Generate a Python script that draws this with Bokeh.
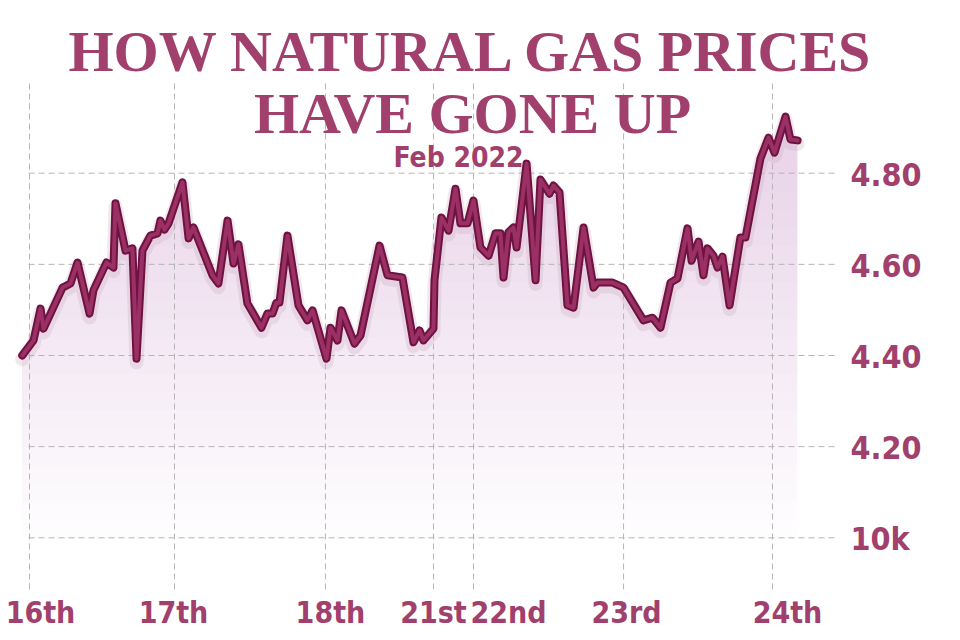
import numpy as np
from bokeh.plotting import figure
from bokeh.models import Range1d
from bokeh.core.properties import value
from bokeh.embed import file_html
from bokeh.resources import INLINE

# ---------------- data ----------------
title_lines = ["HOW NATURAL GAS PRICES", "HAVE GONE UP"]
subtitle = "Feb 2022"

day_labels = ["16th", "17th", "18th", "21st", "22nd", "23rd", "24th"]
day_ticks = [0.0, 1.0, 2.041, 2.786, 3.062, 4.097, 5.124]

price_ticks = [4.80, 4.60, 4.40, 4.20, 4.00]
price_tick_labels = ["4.80", "4.60", "4.40", "4.20", "10k"]

time_x = [-0.050, 0.028, 0.076, 0.097, 0.145, 0.228, 0.283, 0.331, 0.414, 0.441,
          0.531, 0.579, 0.593, 0.662, 0.710, 0.738, 0.779, 0.834, 0.883, 0.903,
          0.931, 0.959, 1.055, 1.097, 1.131, 1.262, 1.303, 1.366, 1.407, 1.441,
          1.503, 1.600, 1.641, 1.676, 1.703, 1.724, 1.779, 1.855, 1.917, 1.952,
          2.048, 2.076, 2.124, 2.152, 2.241, 2.283, 2.414, 2.469, 2.572, 2.648,
          2.690, 2.717, 2.786, 2.793, 2.841, 2.890, 2.938, 2.972, 3.021, 3.062,
          3.110, 3.166, 3.214, 3.248, 3.269, 3.303, 3.338, 3.359, 3.428, 3.490,
          3.524, 3.586, 3.614, 3.655, 3.710, 3.752, 3.821, 3.890, 3.917, 4.021,
          4.097, 4.234, 4.297, 4.352, 4.421, 4.469, 4.538, 4.566, 4.614, 4.648,
          4.676, 4.717, 4.745, 4.779, 4.828, 4.903, 4.938, 5.041, 5.097, 5.138,
          5.214, 5.248, 5.297]

price = [4.400, 4.433, 4.503, 4.459, 4.492, 4.549, 4.558, 4.604, 4.492, 4.543,
         4.604, 4.593, 4.734, 4.630, 4.635, 4.393, 4.630, 4.663, 4.668, 4.696,
         4.676, 4.690, 4.780, 4.657, 4.681, 4.576, 4.558, 4.696, 4.602, 4.644,
         4.514, 4.461, 4.492, 4.492, 4.516, 4.516, 4.663, 4.510, 4.477, 4.499,
         4.393, 4.461, 4.433, 4.499, 4.426, 4.444, 4.641, 4.576, 4.571, 4.429,
         4.455, 4.433, 4.459, 4.565, 4.703, 4.674, 4.766, 4.690, 4.690, 4.740,
         4.637, 4.619, 4.668, 4.668, 4.571, 4.670, 4.681, 4.637, 4.821, 4.565,
         4.786, 4.755, 4.773, 4.758, 4.510, 4.505, 4.681, 4.549, 4.560, 4.560,
         4.549, 4.477, 4.483, 4.461, 4.560, 4.569, 4.679, 4.608, 4.650, 4.576,
         4.635, 4.619, 4.593, 4.617, 4.510, 4.659, 4.659, 4.832, 4.878, 4.845,
         4.924, 4.874, 4.872]

# ---------------- styling / layout ----------------
TEXT_COLOR = "#a1406c"
LINE_DARK = "#6e1242"
LINE_MID = "#9a3063"
GRID_COLOR = "#b5b5b5"
FILL_COLOR = "#b04a80"
TITLE_FONT = value('"Liberation Serif", serif')
LABEL_FONT = value('"DejaVu Sans Condensed", Roboto, sans-serif')
W, H = 960, 640

# pixel <-> data layout helpers (positions for layout only)
X0_PX, PX_PER_DAY = 29.0, 145.0
Y480_PX, PX_PER_UNIT = 172.7, 455.75


def px_x(px):
    return (px - X0_PX) / PX_PER_DAY


def px_y(py):
    return 4.80 - (py - Y480_PX) / PX_PER_UNIT


p = figure(width=W, height=H, output_backend="svg", toolbar_location=None,
           x_range=Range1d(px_x(0), px_x(W)), y_range=Range1d(px_y(H), px_y(0)),
           x_axis_location=None, y_axis_location=None, min_border=0,
           outline_line_color=None, background_fill_color="white",
           border_fill_color="white")
p.grid.visible = False

xs = np.array(time_x)
ys = np.array(price)

# gradient-like area fill built from stacked translucent bands
floors = np.arange(4.0, 4.84, 0.04)
for f in floors:
    p.varea(x=xs, y1=np.full_like(ys, f), y2=np.maximum(ys, f),
            fill_color=FILL_COLOR, fill_alpha=0.013)

# dashed grid
p.segment(x0=[px_x(28)] * len(price_ticks), x1=[px_x(838)] * len(price_ticks),
          y0=price_ticks, y1=price_ticks, line_color=GRID_COLOR,
          line_width=1, line_dash="6 4")
p.segment(x0=day_ticks, x1=day_ticks, y0=[px_y(83)] * len(day_ticks),
          y1=[px_y(590)] * len(day_ticks), line_color=GRID_COLOR,
          line_width=1, line_dash="6 4")

# line with soft shadow and two-tone stroke
p.line(xs, ys - 0.008, line_width=14, line_color="#c9a3b6", line_alpha=0.25,
       line_join="round", line_cap="round")
p.line(xs, ys, line_width=8, line_color=LINE_DARK, line_join="round",
       line_cap="round")
p.line(xs, ys, line_width=4, line_color=LINE_MID, line_join="round",
       line_cap="round")

# titles
p.text(x=[px_x(471), px_x(472)], y=[px_y(51), px_y(113)], text=title_lines,
       text_font=TITLE_FONT, text_font_style="bold",
       text_font_size="58px", text_color=TEXT_COLOR, text_align="center",
       text_baseline="alphabetic")
p.text(x=[px_x(458)], y=[px_y(157)], text=[subtitle],
       text_font=LABEL_FONT, text_font_style="bold",
       text_font_size="28px", text_color=TEXT_COLOR, text_align="center",
       text_baseline="alphabetic")

# y tick labels (right side)
p.text(x=[px_x(850)] * len(price_ticks), y=price_ticks, text=price_tick_labels,
       text_font=LABEL_FONT, text_font_style="bold",
       text_font_size="32px", text_color=TEXT_COLOR, text_align="left",
       text_baseline="middle", y_offset=1)

# x tick labels (bottom)
label_shift = [11, -1, 5, 0, 35, 3, 15]
p.text(x=day_ticks, y=[px_y(612)] * len(day_ticks), text=day_labels,
       x_offset=label_shift,
       text_font=LABEL_FONT, text_font_style="bold",
       text_font_size="30px", text_color=TEXT_COLOR, text_align="center",
       text_baseline="middle")

open("out.html", "w").write(file_html(p, INLINE))
